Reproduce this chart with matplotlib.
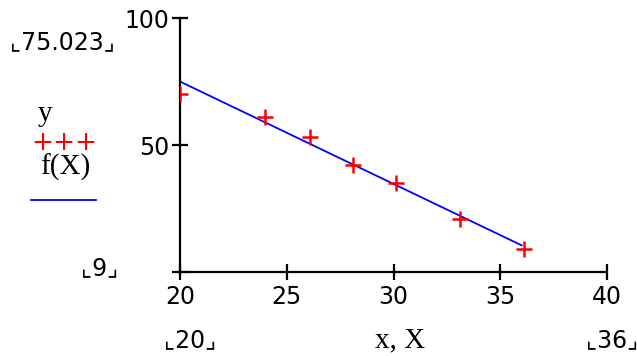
import numpy as np
import matplotlib.pyplot as plt

# data points (x, y) and fitted line f(X)
x = [20, 24, 26.1, 28.1, 30.1, 33.1, 36.1]
y = [70, 61, 53, 42, 35, 21, 9]
X = [20, 36]
fX = [75.023, 10.5]

xticks = [20, 25, 30, 35, 40]
yticks = [0, 50, 100]
ytick_labels = ["", "50", "100"]

fig = plt.figure(figsize=(6.37, 3.56), dpi=100)
ax = fig.add_axes([0.2826, 0.236, 0.6703, 0.713])

ax.plot(X, fX, color="blue", lw=1.3, zorder=2)
ax.plot(x, y, "+", color="red", ms=11, mew=1.8, zorder=3)

ax.set_xlim(20, 40)
ax.set_ylim(0, 100)
ax.set_xticks(xticks)
ax.set_yticks(yticks)
ax.set_yticklabels(ytick_labels)

for s in ["top", "right"]:
    ax.spines[s].set_visible(False)
for s in ["left", "bottom"]:
    ax.spines[s].set_linewidth(1.6)
    ax.spines[s].set_color("black")
ax.tick_params(direction="inout", length=11, width=1.6, labelsize=17, pad=4)
ax.tick_params(axis="y", pad=2)

# mathcad-style range markers and labels
fs = 17
serif = "Liberation Serif"
fig.text(62 / 637, 1 - 42 / 356, "\u231e75.023\u231f", fontsize=fs, ha="center", va="center")
fig.text(100 / 637, 1 - 268 / 356, "\u231e9\u231f", fontsize=fs, ha="center", va="center")
fig.text(190 / 637, 1 - 340 / 356, "\u231e20\u231f", fontsize=fs, ha="center", va="center")
fig.text(612 / 637, 1 - 340 / 356, "\u231e36\u231f", fontsize=fs, ha="center", va="center")
fig.text(400 / 637, 1 - 340 / 356, "x, X", fontsize=21, ha="center", va="center", family=serif)

# legend
fig.text(45 / 637, 1 - 114 / 356, "y", fontsize=21, ha="center", va="center", family=serif)
fig.text(64 / 637, 1 - 143 / 356, "+++", fontsize=19, ha="center", va="center", color="red")
fig.text(65 / 637, 1 - 167 / 356, "f(X)", fontsize=21, ha="center", va="center", family=serif)
fig.add_artist(plt.Line2D([31 / 637, 96 / 637], [1 - 200 / 356, 1 - 200 / 356], color="blue", lw=1.3))

fig.savefig("out.png", dpi=100)
